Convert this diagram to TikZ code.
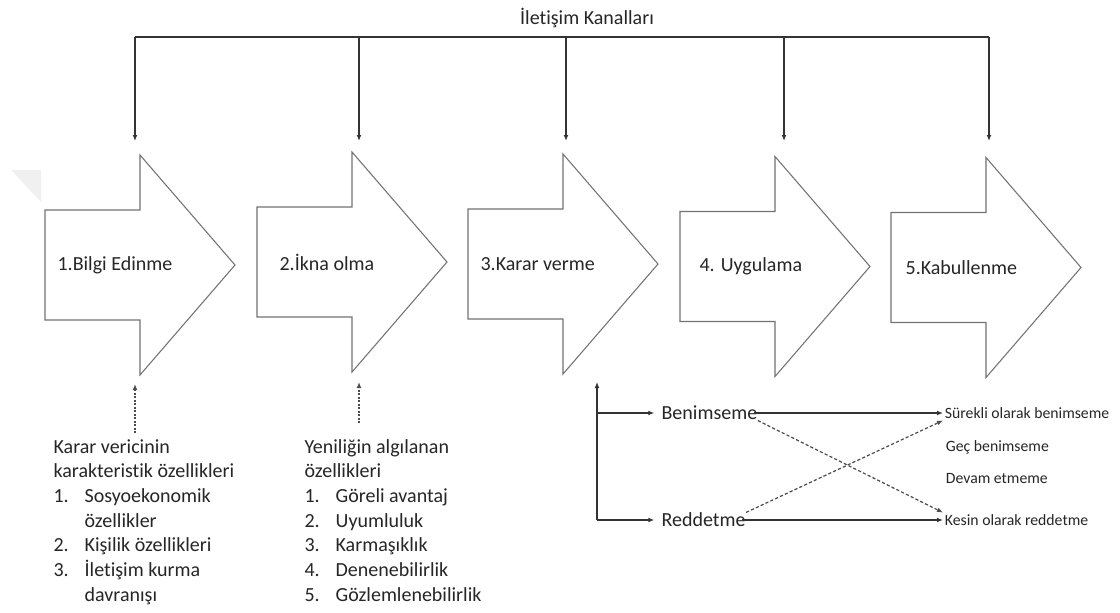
\documentclass[tikz,border=0pt]{standalone}
\usepackage{fontspec}
\setmainfont{Carlito}[Ligatures=NoCommon]
\usetikzlibrary{arrows.meta,calc}

\begin{document}
\begin{tikzpicture}[x=.75pt,y=-.75pt,line width=.9pt,>={Latex[length=4.5pt,width=3.6pt]},
  font=\fontsize{15}{18.5}\selectfont,
  stage/.style={draw=black!55,line width=.8pt,fill=white},
  lbl/.style={anchor=west,inner sep=0pt,text=black!85},
  conn/.style={draw=black!80,->},
  dots/.style={draw=black!70,->,dash pattern=on 1.4pt off 1.2pt},
  cross/.style={draw=black!70,->,dash pattern=on 2.4pt off 1.6pt},
  small/.style={anchor=west,inner sep=1pt,text=black!85,
    font=\fontsize{11.8}{14}\selectfont}]
  \fill[white] (0,0) rectangle (1120,612);
  \fill[black!6] (11,170) -- (41,170) -- (41,202) -- cycle;
  % block arrow: left edge, centre line, label name, label shift, label
  \def\stageArrow#1#2#3#4#5{%
    \draw[stage] (#1,#2-55) -- ++(95,0) -- ++(0,-55) -- ++(95,110)
      -- ++(-95,110) -- ++(0,-55) -- ++(-95,0) -- cycle;
    \node[lbl] (#3) at (#1+#4,#2) {#5};}
  \stageArrow{45}{265}{s1}{12}{1.Bilgi Edinme}
  \stageArrow{257}{262}{s2}{22}{2.İkna olma}
  \stageArrow{468}{264}{s3}{12}{3.Karar verme}
  \stageArrow{680}{266.5}{s4}{19}{4. Uygulama}
  \stageArrow{891}{267.5}{s5}{14}{5.Kabullenme}

  % channels on top
  \node[inner sep=0pt,text=black!85] (title) at (587,18) {İletişim Kanalları};
  \coordinate (b1) at (135,37);
  \coordinate (b2) at (359,37);
  \coordinate (b3) at (566,37);
  \coordinate (b4) at (784,37);
  \coordinate (b5) at (989,37);
  \coordinate (t1) at (135,141);
  \coordinate (t2) at (359,141);
  \coordinate (t3) at (566,141);
  \coordinate (t4) at (784,141);
  \coordinate (t5) at (989,141);
  \draw[black!80,line width=1.2pt] (b1) -- (b5);
  \draw[conn] (b1) -- (t1);
  \draw[conn] (b2) -- (t2);
  \draw[conn] (b3) -- (t3);
  \draw[conn] (b4) -- (t4);
  \draw[conn] (b5) -- (t5);

  % inputs below the first two stages
  \coordinate (u1) at (135,433);
  \coordinate (v1) at (135,384);
  \coordinate (u2) at (359,423);
  \coordinate (v2) at (359,382);
  \draw[dots] (u1) -- (v1);
  \draw[dots] (u2) -- (v2);
  \node[lbl,anchor=base west] (dmk) at (53,453) {%
    \begin{tabular}[t]{@{}p{23.3pt}@{}l@{}}
      \multicolumn{2}{@{}l@{}}{Karar vericinin}\\
      \multicolumn{2}{@{}l@{}}{karakteristik özellikleri}\\
      1. & Sosyoekonomik\\
         & özellikler\\
      2. & Kişilik özellikleri\\
      3. & İletişim kurma\\
         & davranışı
    \end{tabular}};
  \node[lbl,anchor=base west] (inn) at (304,453) {%
    \begin{tabular}[t]{@{}p{23.3pt}@{}l@{}}
      \multicolumn{2}{@{}l@{}}{Yeniliğin algılanan}\\
      \multicolumn{2}{@{}l@{}}{özellikleri}\\
      1. & Göreli avantaj\\
      2. & Uyumluluk\\
      3. & Karmaşıklık\\
      4. & Denenebilirlik\\
      5. & Gözlemlenebilirlik
    \end{tabular}};

  % outcomes of the decision
  \node[lbl] (ben) at (661,413) {Benimseme};
  \node[lbl] (red) at (661,520) {Reddetme};
  \node[small] (sur) at (943,413) {Sürekli olarak benimseme};
  \node[small] (gec) at (944,447) {Geç benimseme};
  \node[small] (dev) at (944,478) {Devam etmeme};
  \node[small] (kes) at (943,520) {Kesin olarak reddetme};
  \coordinate (dtop) at (597,382);
  \coordinate (dbot) at (597,520);
  \draw[conn] (dbot) -- (dtop);
  \draw[conn,shorten >=5pt] (dtop |- ben.west) -- (ben.west);
  \draw[conn,shorten >=5pt] (dbot) -- (red.west);
  \draw[conn,shorten <=-3pt] (ben.east) -- (ben.east -| sur.west);
  \draw[conn,shorten <=-3pt] (red.east) -- (red.east -| kes.west);
  \draw[cross] (ben.south east) -- (kes.north west);
  \draw[cross] (red.north east) -- (sur.south west);
\end{tikzpicture}
\end{document}
